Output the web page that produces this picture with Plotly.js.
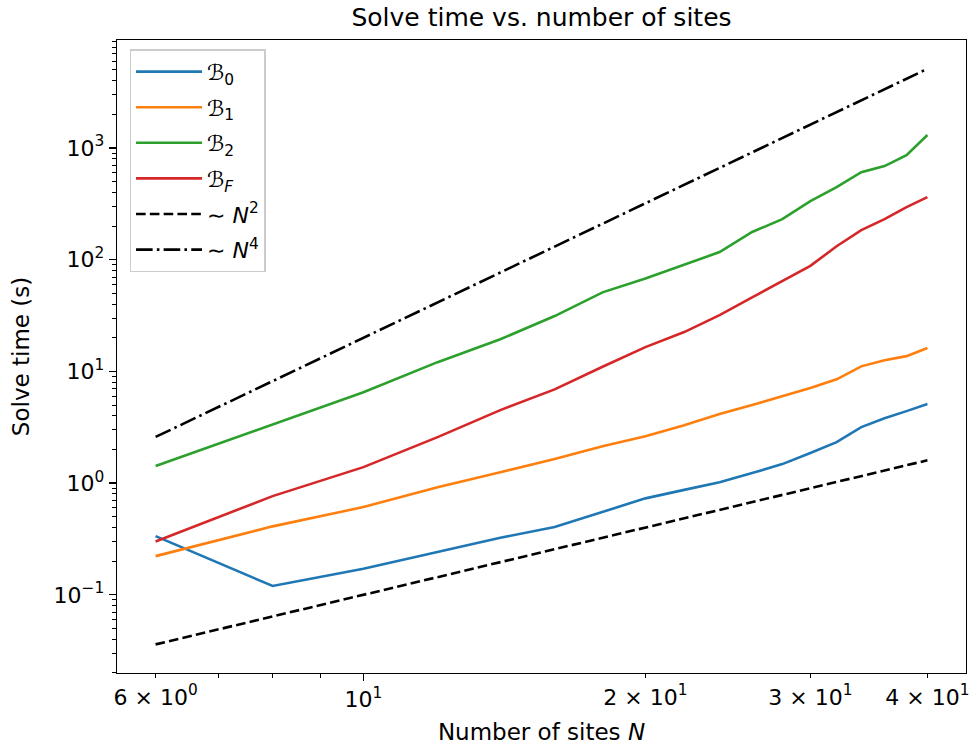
<!DOCTYPE html>
<html>
<head>
<meta charset="utf-8">
<script src="https://cdn.plot.ly/plotly-3.0.1.min.js"></script>
<style>html,body{margin:0;padding:0;background:#fff;}#chart{width:971px;height:747px;}</style>
</head>
<body>
<div id="chart"></div>
<script>
// ---- data ----
const sites = [6, 8, 10, 12, 14, 16, 18, 20, 22, 24, 26, 28, 30, 32, 34, 36, 38, 40];
const timeB0 = [0.335, 0.12, 0.171, 0.243, 0.324, 0.404, 0.55, 0.73, 0.87, 1.02, 1.23, 1.48, 1.86, 2.33, 3.17, 3.8, 4.41, 5.1];
const timeB1 = [0.222, 0.41, 0.61, 0.92, 1.25, 1.64, 2.14, 2.63, 3.3, 4.15, 5.0, 6.0, 7.1, 8.5, 11.1, 12.6, 13.7, 16.2];
const timeB2 = [1.42, 3.37, 6.5, 12.1, 19.4, 31.3, 51, 68, 91, 117, 177, 231, 335, 447, 608, 689, 863, 1306];
const timeBF = [0.30, 0.765, 1.39, 2.58, 4.5, 6.9, 11, 16.5, 22.5, 31.9, 46, 64, 88, 132, 184, 231, 296, 363];
const refSites = [6, 40];
const refN2 = [0.036, 1.6];
const refN4 = [2.59, 5120];
const seriesNames = ['ℬ<sub>0</sub>', 'ℬ<sub>1</sub>', 'ℬ<sub>2</sub>', 'ℬ<sub><i>F</i></sub>', '∼ <i>N</i><sup>2</sup>', '∼ <i>N</i><sup>4</sup>'];
const xTickVals = [6, 20, 30, 40];
const xTickText = ['6 × 10<sup>0</sup>', '2 × 10<sup>1</sup>', '3 × 10<sup>1</sup>', '4 × 10<sup>1</sup>'];
const xMajorVals = [10];
const xMajorText = ['10<sup>1</sup>'];
const yTickVals = [0.1, 1, 10, 100, 1000];
const yTickText = ['10<sup>−1</sup>', '10<sup>0</sup>', '10<sup>1</sup>', '10<sup>2</sup>', '10<sup>3</sup>'];

// ---- styles ----
const colors = ['#1f77b4', '#ff7f0e', '#2ca02c', '#d62728', '#000000', '#000000'];
const LW = 2.6;
const FONT = 'DejaVu Sans, sans-serif';
const TICKSIZE = 22;

const ys = [timeB0, timeB1, timeB2, timeBF];
const traces = ys.map((y, i) => ({
  x: sites, y: y, type: 'scatter', mode: 'lines', name: seriesNames[i], legendgroup: 'g' + i,
  line: {color: colors[i], width: LW}
}));
traces.push({x: refSites, y: refN2, type: 'scatter', mode: 'lines', name: seriesNames[4], legendgroup: 'g4',
  line: {color: '#000', width: LW, dash: '9.6px,4.2px'}});
traces.push({x: refSites, y: refN4, type: 'scatter', mode: 'lines', name: seriesNames[5], legendgroup: 'g5',
  line: {color: '#000', width: LW, dash: '16.6px,4.2px,2.6px,4.2px'}});

// minor tick positions
const xMinor = [7, 8, 9];
const yMinor = [];
for (let e = -2; e <= 3; e++) for (let m = 2; m <= 9; m++) yMinor.push(m * Math.pow(10, e));

const xr = [Math.log10(6) - 0.0412, Math.log10(40) + 0.0412];
const yr = [-1.70, 3.967];

const layout = {
  width: 971, height: 747,
  margin: {l: 117, r: 5, t: 40, b: 74},
  paper_bgcolor: '#fff', plot_bgcolor: '#fff',
  font: {family: FONT, size: TICKSIZE, color: '#000'},
  title: {text: 'Solve time vs. number of sites', font: {family: FONT, size: 25, color: '#000'},
    x: 0.5, xref: 'paper', xanchor: 'center', y: 1 - 17 / 747, yref: 'container', yanchor: 'middle'},
  xaxis: {
    type: 'log', range: xr, showgrid: false, zeroline: false,
    showline: true, linecolor: '#000', linewidth: 1.3, mirror: true,
    tickmode: 'array', tickvals: xTickVals, ticktext: xTickText,
    ticks: 'outside', ticklen: 4, tickwidth: 1.1, tickcolor: '#000',
    tickfont: {family: FONT, size: TICKSIZE},
    minor: {tickmode: 'array', tickvals: xMinor, ticks: 'outside', ticklen: 4, tickwidth: 1, tickcolor: '#000', showgrid: false},
    title: {text: 'Number of sites <i>N</i>', font: {family: FONT, size: 23}, standoff: 15}
  },
  xaxis2: {
    type: 'log', range: xr, overlaying: 'x', anchor: 'y', side: 'bottom',
    showgrid: false, zeroline: false, showline: false,
    tickmode: 'array', tickvals: xMajorVals, ticktext: xMajorText,
    ticks: 'outside', ticklen: 7, tickwidth: 1.3, tickcolor: '#000',
    tickfont: {family: FONT, size: TICKSIZE}
  },
  yaxis: {
    type: 'log', range: yr, showgrid: false, zeroline: false,
    showline: true, linecolor: '#000', linewidth: 1.3, mirror: true,
    tickmode: 'array', tickvals: yTickVals, ticktext: yTickText,
    ticks: 'outside', ticklen: 7, tickwidth: 1.3, tickcolor: '#000',
    tickfont: {family: FONT, size: TICKSIZE},
    minor: {tickmode: 'array', tickvals: yMinor, ticks: 'outside', ticklen: 4, tickwidth: 1, tickcolor: '#000', showgrid: false},
    title: {text: 'Solve time (s)', font: {family: FONT, size: 23}, standoff: 17}
  },
  showlegend: true,
  legend: {
    x: 0.015, y: 0.985, xanchor: 'left', yanchor: 'top',
    bgcolor: 'rgba(255,255,255,0.8)', bordercolor: '#cccccc', borderwidth: 1.3,
    font: {family: FONT, size: 22, color: '#000'},
    tracegroupgap: 4, itemwidth: 66
  }
};

// invisible trace to anchor xaxis2
traces.push({x: refSites, y: refN2, xaxis: 'x2', yaxis: 'y', type: 'scatter', mode: 'lines',
  line: {width: 0, color: 'rgba(0,0,0,0)'}, showlegend: false, hoverinfo: 'skip'});

Plotly.newPlot('chart', traces, layout, {displayModeBar: false, staticPlot: true});
</script>
</body>
</html>
